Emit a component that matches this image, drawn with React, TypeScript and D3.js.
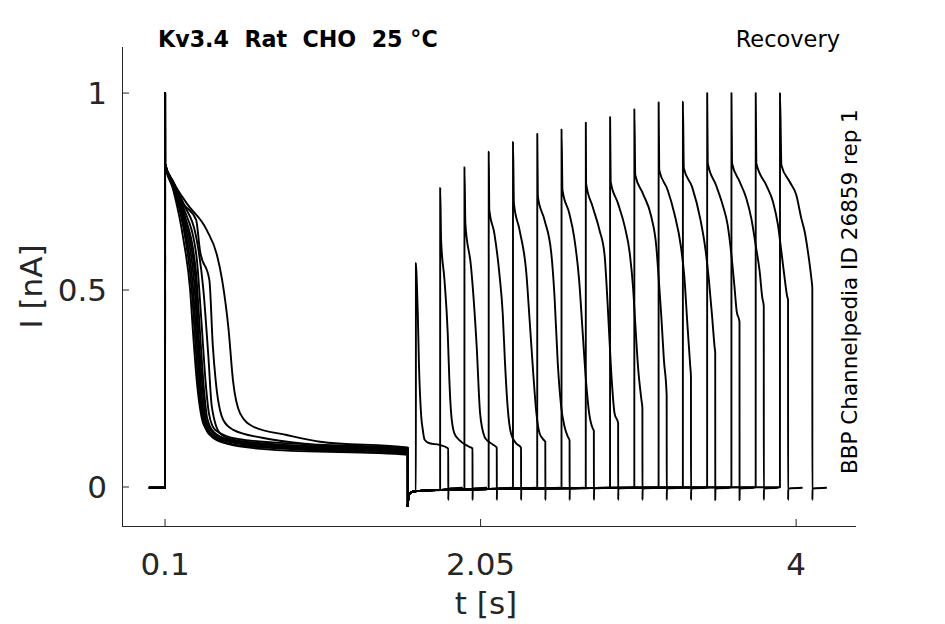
import * as d3 from 'd3';

type Pt = [number, number];

// conditioning pulse (0.1 s .. 1.6 s), [t, I]
const condLeftEdge: Pt[] = [[0.1006, 0.82], [0.15, 0.755], [0.213, 0.63], [0.255, 0.5], [0.275, 0.38], [0.296, 0.27], [0.316, 0.2], [0.337, 0.16], [0.4, 0.128], [0.52, 0.108], [0.85, 0.097], [1.2, 0.09], [1.6, 0.086]];
const condFastB: Pt[] = [[0.1006, 0.82], [0.15, 0.76], [0.213, 0.66], [0.265, 0.5], [0.29, 0.35], [0.31, 0.24], [0.33, 0.18], [0.36, 0.145], [0.45, 0.12], [0.6, 0.108], [0.9, 0.1], [1.6, 0.09]];
const condFastC: Pt[] = [[0.1006, 0.82], [0.15, 0.765], [0.213, 0.68], [0.28, 0.52], [0.305, 0.36], [0.325, 0.24], [0.345, 0.17], [0.38, 0.138], [0.5, 0.115], [0.8, 0.104], [1.6, 0.093]];
const condFastD: Pt[] = [[0.1006, 0.82], [0.15, 0.768], [0.213, 0.69], [0.285, 0.54], [0.31, 0.37], [0.333, 0.245], [0.352, 0.172], [0.39, 0.14], [0.5, 0.118], [0.8, 0.1], [1.6, 0.088]];
const condFastE: Pt[] = [[0.1006, 0.82], [0.15, 0.77], [0.213, 0.7], [0.29, 0.55], [0.318, 0.38], [0.34, 0.25], [0.36, 0.175], [0.4, 0.14], [0.5, 0.12], [0.8, 0.108], [1.6, 0.096]];
const condFastF: Pt[] = [[0.1006, 0.82], [0.15, 0.762], [0.213, 0.67], [0.272, 0.51], [0.297, 0.36], [0.318, 0.24], [0.338, 0.168], [0.37, 0.135], [0.48, 0.11], [0.75, 0.095], [1.6, 0.082]];
const condFastG: Pt[] = [[0.1006, 0.82], [0.15, 0.772], [0.213, 0.71], [0.293, 0.59], [0.325, 0.42], [0.35, 0.27], [0.372, 0.185], [0.41, 0.145], [0.55, 0.122], [0.9, 0.11], [1.6, 0.1]];
const condRightEdge: Pt[] = [[0.1006, 0.82], [0.15, 0.775], [0.213, 0.72], [0.296, 0.627], [0.337, 0.5], [0.368, 0.33], [0.389, 0.204], [0.44, 0.136], [0.52, 0.12], [0.85, 0.105], [1.2, 0.1], [1.6, 0.095]];
const condMid: Pt[] = [[0.1006, 0.82], [0.15, 0.775], [0.213, 0.72], [0.292, 0.678], [0.316, 0.6], [0.374, 0.525], [0.395, 0.36], [0.413, 0.27], [0.46, 0.17], [0.522, 0.145], [0.7, 0.125], [1.0, 0.108], [1.6, 0.095]];
const condSlow: Pt[] = [[0.1006, 0.82], [0.15, 0.775], [0.234, 0.72], [0.358, 0.652], [0.42, 0.59], [0.453, 0.525], [0.493, 0.398], [0.52, 0.27], [0.564, 0.187], [0.646, 0.153], [0.852, 0.132], [1.058, 0.115], [1.6, 0.1]];
const condTraces = [condLeftEdge, condFastB, condFastC, condFastD, condFastE, condFastF, condFastG, condRightEdge, condMid, condSlow];

// baseline after the conditioning step
const recoveryT = [1.6003, 1.603, 1.61, 1.63, 1.7, 1.85, 2.1, 2.5, 3.0, 3.5, 4.3];
const recoveryV = [-0.05, -0.03, -0.018, -0.012, -0.009, -0.007, -0.005, -0.003, -0.002, -0.001, 0];

// test pulses
const testStart = [1.65, 1.8, 1.95, 2.1, 2.25, 2.4, 2.55, 2.7, 2.85, 3.0, 3.15, 3.3, 3.45, 3.6, 3.75, 3.9];
const testPeak = [0.569, 0.759, 0.812, 0.851, 0.876, 0.896, 0.908, 0.925, 0.939, 0.959, 0.976, 0.978, 1.0, 1.0, 1.0, 1.0];
const testDecay: Pt[][] = [
  [[0.006, 0.52], [0.012, 0.44], [0.019, 0.314], [0.033, 0.18], [0.043, 0.145], [0.054, 0.12], [0.085, 0.111], [0.146, 0.107], [0.2, 0.098]],
  [[0.006, 0.627], [0.027, 0.525], [0.047, 0.39], [0.057, 0.272], [0.068, 0.187], [0.088, 0.136], [0.119, 0.119], [0.17, 0.104], [0.2, 0.098]],
  [[0.006, 0.669], [0.041, 0.559], [0.076, 0.356], [0.097, 0.187], [0.124, 0.128], [0.144, 0.117], [0.175, 0.108], [0.2, 0.1]],
  [[0.004, 0.703], [0.035, 0.644], [0.066, 0.542], [0.087, 0.44], [0.101, 0.314], [0.117, 0.204], [0.138, 0.136], [0.169, 0.111], [0.2, 0.1]],
  [[0.006, 0.72], [0.041, 0.652], [0.083, 0.542], [0.103, 0.424], [0.124, 0.297], [0.145, 0.187], [0.165, 0.136], [0.196, 0.117], [0.2, 0.115]],
  [[0.004, 0.737], [0.045, 0.678], [0.087, 0.593], [0.107, 0.483], [0.127, 0.314], [0.148, 0.204], [0.169, 0.153], [0.189, 0.128], [0.2, 0.118]],
  [[0.006, 0.754], [0.048, 0.695], [0.078, 0.635], [0.109, 0.525], [0.13, 0.398], [0.151, 0.272], [0.171, 0.187], [0.195, 0.147], [0.2, 0.143]],
  [[0.002, 0.771], [0.043, 0.711], [0.085, 0.652], [0.116, 0.59], [0.136, 0.458], [0.156, 0.3], [0.178, 0.187], [0.2, 0.162]],
  [[0.004, 0.775], [0.049, 0.72], [0.091, 0.661], [0.122, 0.593], [0.142, 0.508], [0.157, 0.407], [0.173, 0.305], [0.194, 0.221], [0.2, 0.2]],
  [[0.006, 0.792], [0.053, 0.745], [0.105, 0.686], [0.136, 0.61], [0.15, 0.534], [0.167, 0.432], [0.183, 0.322], [0.2, 0.232]],
  [[0.004, 0.805], [0.056, 0.754], [0.097, 0.695], [0.138, 0.61], [0.159, 0.534], [0.179, 0.407], [0.196, 0.305], [0.2, 0.28]],
  [[0.006, 0.809], [0.057, 0.762], [0.109, 0.678], [0.14, 0.602], [0.161, 0.525], [0.181, 0.432], [0.196, 0.356], [0.2, 0.34]],
  [[0.004, 0.822], [0.055, 0.766], [0.096, 0.716], [0.127, 0.665], [0.148, 0.597], [0.168, 0.513], [0.183, 0.445], [0.2, 0.42]],
  [[0.004, 0.822], [0.051, 0.775], [0.092, 0.733], [0.123, 0.682], [0.15, 0.614], [0.175, 0.546], [0.191, 0.48], [0.2, 0.46]],
  [[0.004, 0.822], [0.066, 0.766], [0.107, 0.724], [0.138, 0.665], [0.159, 0.597], [0.179, 0.53], [0.194, 0.485], [0.2, 0.475]],
  [[0.009, 0.817], [0.06, 0.775], [0.101, 0.741], [0.132, 0.682], [0.153, 0.648], [0.173, 0.597], [0.194, 0.53], [0.2, 0.505]],
];
const PULSE = 0.2;
const TAIL = 0.09;

const xTicks = [0.1, 2.05, 4];
const yTicks = [0, 0.5, 1];

const AX = '#262626';
const FONT = 'DejaVu Sans, sans-serif';

export default function App() {
  const x = d3.scaleLinear().domain([-0.166, 4.37]).range([122, 856]);
  const y = d3.scaleLinear().domain([-0.099, 1.117]).range([526, 47]);
  const line = d3.line<Pt>().x(d => x(d[0])).y(d => y(d[1])).curve(d3.curveMonotoneX);
  const baseAt = d3.scaleLinear().domain(recoveryT).range(recoveryV).clamp(true);

  const condPaths = condTraces.map(tr =>
    line([[0, -0.002], [0.1, -0.002], [0.1003, 1], ...tr, [1.6002, -0.05]]));

  const testPaths = testStart.map((s, k) => {
    const pts: Pt[] = [];
    recoveryT.forEach((t, i) => { if (t < s) pts.push([t, recoveryV[i]]); });
    pts.push([s, baseAt(s)]);
    pts.push([s + 0.0004, testPeak[k]]);
    testDecay[k].forEach(([dt, v]) => pts.push([s + dt, v]));
    pts.push([s + PULSE + 0.0004, -0.033]);
    pts.push([s + PULSE + 0.0015, -0.004]);
    pts.push([s + PULSE + TAIL, -0.002]);
    return line(pts);
  });

  const [x0, x1] = x.range();
  const [yb, yt] = y.range();

  return (
    <svg width={945} height={624} style={{ position: 'absolute', left: 0, top: 0, background: '#fff' }}
      fontFamily={FONT}>
      <g fill="none" stroke="#000" strokeWidth={1.9} strokeLinejoin="round">
        {condPaths.map((d, i) => <path key={'c' + i} d={d ?? ''} />)}
        {testPaths.map((d, i) => <path key={'t' + i} d={d ?? ''} />)}
      </g>

      <g stroke={AX} strokeWidth={1}>
        <line x1={x0 + 0.5} x2={x0 + 0.5} y1={yt} y2={yb + 0.5} />
        <line x1={x0} x2={x1} y1={yb + 0.5} y2={yb + 0.5} />
        {yTicks.map(v => <line key={v} x1={x0} x2={x0 + 7} y1={y(v)} y2={y(v)} />)}
        {xTicks.map(v => <line key={v} x1={x(v)} x2={x(v)} y1={yb} y2={yb - 7} />)}
      </g>

      <g fill={AX} fontSize={31}>
        {yTicks.map(v => (
          <text key={v} x={107} y={y(v)} dy="0.36em" textAnchor="end">{String(v)}</text>
        ))}
        {xTicks.map(v => (
          <text key={v} x={x(v)} y={575} textAnchor="middle">{String(v)}</text>
        ))}
        <text x={486} y={614} textAnchor="middle">t [s]</text>
        <text transform={`translate(42,${(yt + yb) / 2}) rotate(-90)`} textAnchor="middle">I [nA]</text>
      </g>

      <text x={158} y={47} fontSize={22.2} fontWeight="bold" fill="#000" style={{ whiteSpace: 'pre' }}>
        {'Kv3.4  Rat  CHO  25 °C'}
      </text>
      <text x={840} y={47} fontSize={22.5} textAnchor="end" fill="#000">Recovery</text>
      <text transform="translate(857,474) rotate(-90)" fontSize={21.5} fill="#000">
        BBP Channelpedia ID 26859 rep 1
      </text>
    </svg>
  );
}
